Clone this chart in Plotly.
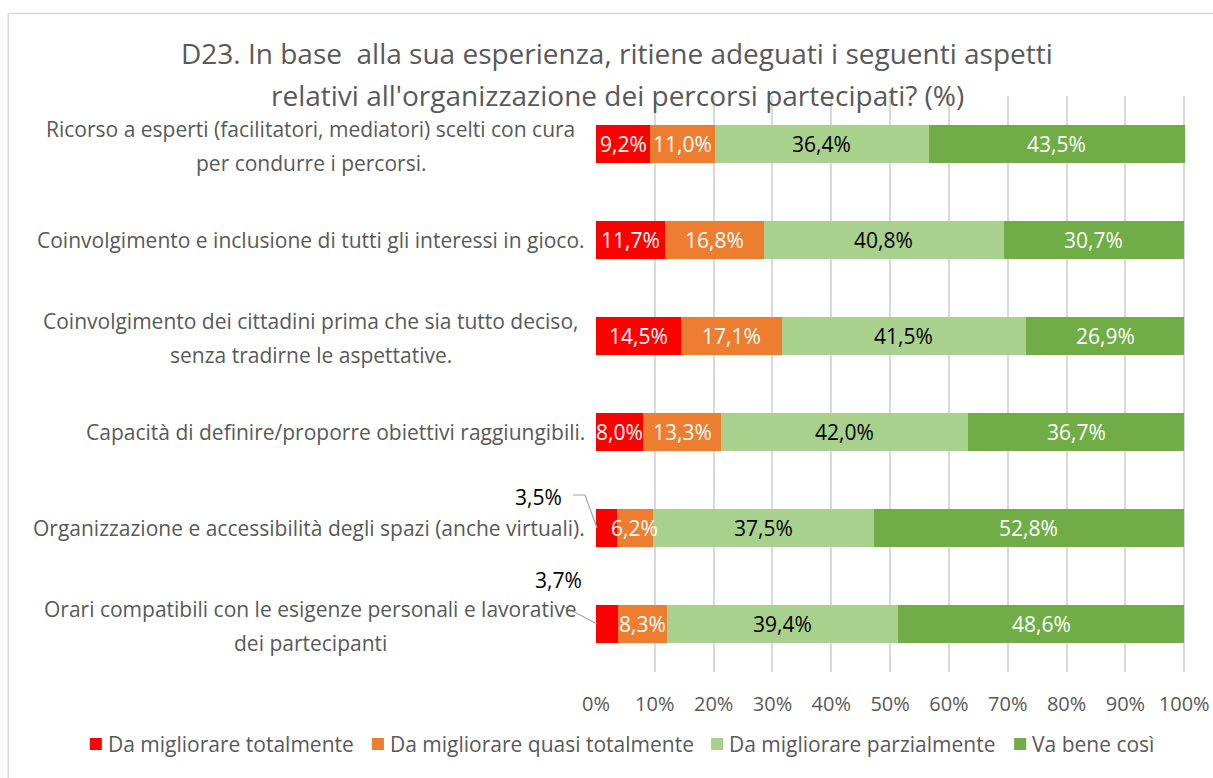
import plotly.graph_objects as go

# Survey item labels (top to bottom), each list entry is one printed line
categories = [
    ["Ricorso a esperti (facilitatori, mediatori) scelti con cura", "per condurre i percorsi."],
    ["Coinvolgimento e inclusione di tutti gli interessi in gioco."],
    ["Coinvolgimento dei cittadini prima che sia tutto deciso,", "senza tradirne le aspettative."],
    ["Capacità di definire/proporre obiettivi raggiungibili."],
    ["Organizzazione e accessibilità degli spazi (anche virtuali)."],
    ["Orari compatibili con le esigenze personali e lavorative", "dei partecipanti"],
]

series_names = [
    "Da migliorare totalmente",
    "Da migliorare quasi totalmente",
    "Da migliorare parzialmente",
    "Va bene così",
]

# Percentages per answer, in the same order as categories
totalmente = [9.2, 11.7, 14.5, 8.0, 3.5, 3.7]
quasi_totalmente = [11.0, 16.8, 17.1, 13.3, 6.2, 8.3]
parzialmente = [36.4, 40.8, 41.5, 42.0, 37.5, 39.4]
va_bene = [43.5, 30.7, 26.9, 36.7, 52.8, 48.6]

x_ticks = [0, 10, 20, 30, 40, 50, 60, 70, 80, 90, 100]

series_values = [totalmente, quasi_totalmente, parzialmente, va_bene]
colors = ["#FF0000", "#ED7D31", "#A9D18E", "#70AD47"]
label_colors = ["#FFFFFF", "#FFFFFF", "#000000", "#FFFFFF"]

FONT = "Open Sans"
GREY = "#595959"
LABEL_SIZE = 21

W, H = 1213, 778
X_MAX = 100.3                     # small headroom so the 100% gridline is drawn
L, T, B = 596, 96, 672            # plot area in pixels
X100 = 1184                       # pixel position of 100%
R = L + (X100 - L) * X_MAX / 100


def px(xp):
    return (xp - L) / (R - L)


def py(yp):
    return (B - yp) / (B - T)


cat_keys = [" ".join(c) for c in categories]


def fmt(v):
    return f"{v:.1f}".replace(".", ",") + "%"


fig = go.Figure()
for name, vals, col in zip(series_names, series_values, colors):
    fig.add_trace(go.Bar(
        y=cat_keys, x=vals, name=name, orientation="h",
        marker=dict(color=col, line=dict(width=0)),
        showlegend=False, hoverinfo="skip",
    ))

annotations = []
shapes = []

# Value labels centred in each segment; tiny first segments get an outside label
outside = {}
for i, key in enumerate(cat_keys):
    start = 0.0
    for s, vals in enumerate(series_values):
        v = vals[i]
        if s == 0 and v < 5:
            outside[i] = v
        else:
            annotations.append(dict(
                x=start + v / 2, y=key, xref="x", yref="y", text=fmt(v),
                showarrow=False, font=dict(family=FONT, size=LABEL_SIZE, color=label_colors[s]),
            ))
        start += v

# Outside labels with leader lines for the small red segments
callouts = {4: dict(text_xy=(564, 497), path=[(573, 495), (585, 495), (597, 528)]),
            5: dict(text_xy=(584, 580), path=[(563, 606), (597, 624)])}
for i, v in outside.items():
    c = callouts[i]
    annotations.append(dict(
        x=px(c["text_xy"][0]), y=py(c["text_xy"][1]), xref="paper", yref="paper",
        xanchor="right", yanchor="middle", text=fmt(v), showarrow=False,
        font=dict(family=FONT, size=LABEL_SIZE, color="#000000"),
    ))
    pts = c["path"]
    d = "M" + " L".join(f"{px(a):.5f},{py(b):.5f}" for a, b in pts)
    shapes.append(dict(type="path", path=d, xref="paper", yref="paper",
                       line=dict(color="#A6A6A6", width=1.2)))

# Category labels: single lines end near the axis, wrapped lines share a centre
LABEL_RIGHT = 587
WRAP_CENTER = 311
LINE_GAP = 34
for key, lines in zip(cat_keys, categories):
    if len(lines) == 1:
        annotations.append(dict(
            x=px(LABEL_RIGHT), y=key, xref="paper", yref="y", xanchor="right",
            yanchor="middle", text=lines[0], showarrow=False,
            font=dict(family=FONT, size=LABEL_SIZE, color=GREY),
        ))
    else:
        for k, line in enumerate(lines):
            annotations.append(dict(
                x=px(WRAP_CENTER), y=key, xref="paper", yref="y", xanchor="center",
                yanchor="middle", yshift=LINE_GAP / 2 - k * LINE_GAP - 2, text=line,
                showarrow=False, font=dict(family=FONT, size=LABEL_SIZE, color=GREY),
            ))

# Two-line title
title_lines = [
    "D23. In base  alla sua esperienza, ritiene adeguati i seguenti aspetti",
    "relativi all'organizzazione dei percorsi partecipati? (%)",
]
for line, yline in zip(title_lines, [53, 95]):
    annotations.append(dict(
        x=px(617), y=py(yline), xref="paper", yref="paper", xanchor="center",
        yanchor="middle", text=line.replace("  ", "&nbsp; "), showarrow=False,
        font=dict(family=FONT, size=28, color=GREY),
    ))

# Legend drawn as swatches + text
legend_x = [90, 372, 711, 1014]
for name, col, lx in zip(series_names, colors, legend_x):
    shapes.append(dict(type="rect", xref="paper", yref="paper",
                       x0=px(lx), x1=px(lx + 12), y0=py(750), y1=py(738),
                       fillcolor=col, line=dict(width=0)))
    annotations.append(dict(
        x=px(lx + 16), y=py(744), xref="paper", yref="paper", xanchor="left",
        yanchor="middle", text=name, showarrow=False,
        font=dict(family=FONT, size=LABEL_SIZE, color=GREY),
    ))

# Chart border
shapes.append(dict(type="rect", xref="paper", yref="paper",
                   x0=px(8.5), x1=px(1230), y0=py(790), y1=py(13.5),
                   line=dict(color="#D9D9D9", width=1.5), fillcolor="rgba(0,0,0,0)",
                   layer="below"))

fig.update_layout(
    barmode="stack",
    bargap=0.61,
    width=W, height=H,
    margin=dict(l=L, r=W - R, t=T, b=H - B, pad=0, autoexpand=False),
    paper_bgcolor="white", plot_bgcolor="white",
    xaxis=dict(
        range=[0, X_MAX], tickvals=x_ticks, ticktext=[f"{t}%" for t in x_ticks],
        showgrid=True, gridcolor="#D9D9D9", gridwidth=1.5, automargin=False,
        zeroline=False, showline=False, ticks="", ticklabelstandoff=18,
        tickfont=dict(family=FONT, size=20, color=GREY), fixedrange=True,
    ),
    yaxis=dict(
        categoryorder="array", categoryarray=cat_keys, autorange="reversed",
        showticklabels=False, showgrid=False, zeroline=False, showline=False,
        ticks="", fixedrange=True, automargin=False,
    ),
    annotations=annotations,
    shapes=shapes,
    showlegend=False,
    font=dict(family=FONT),
)

fig.write_html("out.html")
